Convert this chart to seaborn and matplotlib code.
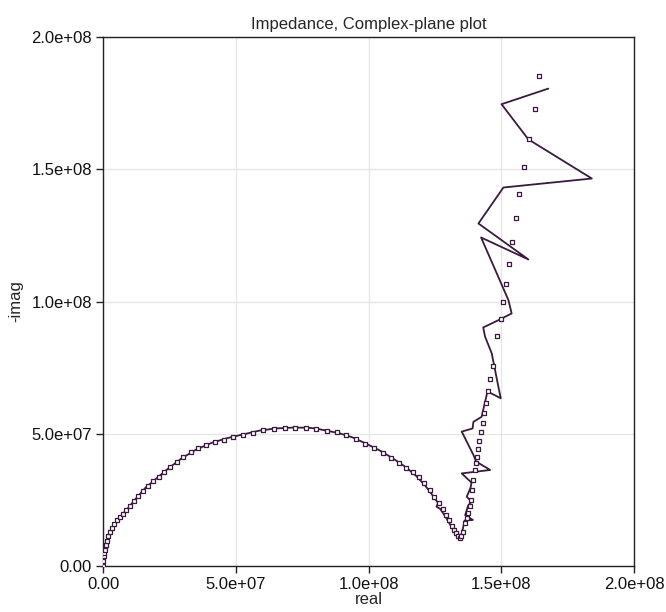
import numpy as np
import pandas as pd
import matplotlib
matplotlib.use("Agg")
import matplotlib.pyplot as plt
import seaborn as sns

UNIT = 1e7  # values below are in units of 1e7 ohm

# Fit (squares): real / -imag
fit_real = [0.00, 0.01, 0.03, 0.05, 0.07, 0.10, 0.14, 0.19, 0.25, 0.33, 0.42, 0.52, 0.63, 0.75, 0.88,
            1.02, 1.17, 1.33, 1.50, 1.68, 1.88, 2.09, 2.31, 2.54, 2.78, 3.03, 3.30, 3.58, 3.88, 4.20,
            4.54, 4.90, 5.27, 5.65, 6.04, 6.44, 6.84, 7.24, 7.64, 8.03, 8.42, 8.80, 9.17, 9.53, 9.88,
            10.22, 10.54, 10.85, 11.14, 11.41, 11.66, 11.89, 12.10, 12.30, 12.48, 12.64, 12.79, 12.92,
            13.04, 13.14, 13.23, 13.31, 13.38, 13.44,
            13.50, 13.56, 13.63, 13.70, 13.76, 13.82, 13.86, 13.89, 13.95, 14.01, 14.05, 14.08, 14.14,
            14.17, 14.24, 14.30, 14.35, 14.41, 14.51, 14.58, 14.68, 14.85, 14.98, 15.07, 15.18, 15.29,
            15.40, 15.57, 15.68, 15.86, 16.03, 16.26, 16.42]
fit_imag = [0.00, 0.18, 0.36, 0.50, 0.62, 0.78, 0.95, 1.12, 1.28, 1.45, 1.60, 1.73, 1.86, 1.97, 2.10,
            2.27, 2.46, 2.66, 2.84, 3.02, 3.20, 3.38, 3.56, 3.76, 3.94, 4.12, 4.30, 4.45, 4.57, 4.67,
            4.76, 4.86, 4.95, 5.04, 5.15, 5.19, 5.21, 5.21, 5.20, 5.17, 5.12, 5.05, 4.95, 4.80, 4.62,
            4.45, 4.27, 4.07, 3.88, 3.71, 3.55, 3.36, 3.12, 2.86, 2.62, 2.40, 2.16, 1.94,
            1.72, 1.53, 1.37, 1.24, 1.14, 1.07,
            1.15, 1.30, 1.63, 1.82, 2.00, 2.25, 2.49, 2.87, 3.25, 3.63, 3.88, 4.13, 4.41,
            4.74, 5.05, 5.39, 5.80, 6.17, 6.63, 7.06, 7.56, 8.71, 9.32, 9.99, 10.66, 11.43,
            12.26, 13.14, 14.07, 15.07, 16.13, 17.28, 18.52]

# Measured (line): real / -imag
meas_real = [0.00, 0.01, 0.03, 0.06, 0.10, 0.16, 0.24, 0.35, 0.50, 0.70, 0.95, 1.25, 1.60, 2.00, 2.45,
             2.95, 3.50, 4.10, 4.70, 5.30, 5.90, 6.50, 7.10, 7.70, 8.00, 8.40, 8.90, 9.40, 9.90, 10.40,
             10.90, 11.40, 11.80, 12.15, 12.45, 12.62, 12.56, 12.70, 12.90, 13.08, 13.22, 13.33, 13.40,
             13.48, 13.55, 13.62, 13.93, 13.64, 13.75, 13.88, 13.70, 13.84, 13.88, 13.51, 14.58, 14.05,
             13.95, 13.51, 13.92, 13.95, 14.26, 14.48, 14.98, 14.89, 14.64, 14.39, 14.32, 14.95, 15.39,
             15.27, 14.24, 16.02, 14.14, 15.08, 18.41, 16.02, 15.01, 16.77]
meas_imag = [0.00, 0.20, 0.40, 0.62, 0.82, 1.02, 1.22, 1.45, 1.68, 1.92, 2.20, 2.56, 2.96, 3.30, 3.68,
             4.06, 4.40, 4.66, 4.84, 4.98, 5.12, 5.20, 5.23, 5.23, 5.20, 5.12, 5.02, 4.86, 4.63, 4.38,
             4.08, 3.74, 3.40, 3.02, 2.62, 2.38, 2.24, 2.16, 1.86, 1.55, 1.30, 1.12, 1.05,
             1.12, 1.40, 1.72, 1.74, 1.92, 2.28, 2.43, 2.62, 2.95, 3.15, 3.50, 3.63, 3.95,
             4.20, 5.08, 5.20, 5.45, 5.64, 6.60, 6.34, 6.78, 8.04, 8.67, 9.02, 9.32, 9.55,
             10.05, 12.42, 11.59, 12.95, 14.31, 14.65, 16.13, 17.46, 18.05]

tick_values = [0.0, 5.0e7, 1.0e8, 1.5e8, 2.0e8]
tick_labels = ["0.00", "5.0e+07", "1.0e+08", "1.5e+08", "2.0e+08"]

fit_df = pd.DataFrame({"real": np.array(fit_real) * UNIT, "imag": np.array(fit_imag) * UNIT})
meas_df = pd.DataFrame({"real": np.array(meas_real) * UNIT, "imag": np.array(meas_imag) * UNIT})

sns.set_style("white")
plt.rcParams["font.family"] = ["Liberation Sans", "DejaVu Sans"]

color = "#3a1a3e"
fig = plt.figure(figsize=(6.66, 6.12), dpi=100)
ax = fig.add_axes([0.1547, 0.0752, 0.7973, 0.8643])

sns.lineplot(data=meas_df, x="real", y="imag", sort=False, estimator=None, ax=ax,
             color=color, linewidth=1.3, zorder=3)
sns.scatterplot(data=fit_df, x="real", y="imag", ax=ax, marker="s", s=9,
                facecolor="white", edgecolor=color, linewidth=0.9, zorder=4)

ax.set_xlim(0, 2.0e8)
ax.set_ylim(0, 2.0e8)
ax.set_xticks(tick_values)
ax.set_xticklabels(tick_labels)
ax.set_yticks(tick_values)
ax.set_yticklabels(tick_labels)
ax.grid(True, color="#e6e6e6", linewidth=1.0)
ax.set_axisbelow(True)
for sp in ax.spines.values():
    sp.set_color("#222222")
    sp.set_linewidth(1.0)
ax.tick_params(axis="both", direction="out", length=5, width=1, color="#222222",
               labelsize=12, labelcolor="#111111", bottom=True, left=True, pad=3)
ax.set_xlabel("real", fontsize=12, labelpad=0)
ax.set_ylabel("-imag", fontsize=12, labelpad=6)
ax.set_title("Impedance, Complex-plane plot", fontsize=12, pad=6)

fig.savefig("out.png", dpi=100)
